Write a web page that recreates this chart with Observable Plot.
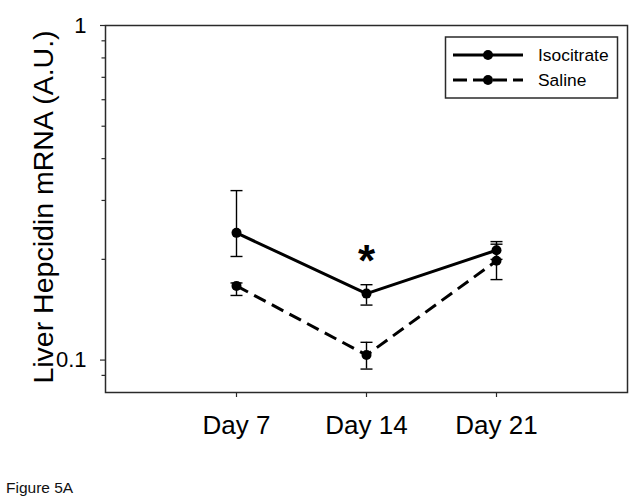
<!DOCTYPE html>
<html><head><meta charset="utf-8">
<script src="https://cdn.jsdelivr.net/npm/d3@7"></script>
<script src="https://cdn.jsdelivr.net/npm/@observablehq/plot@0.6"></script>
<style>
body{margin:0;background:#fff;}
#wrap{position:relative;width:641px;height:503px;font-family:"Liberation Sans",Arial,sans-serif;}
#caption{position:absolute;left:6px;top:480px;font-size:15.5px;line-height:15.5px;color:#111;white-space:nowrap;}
#legend{position:absolute;left:0;top:0;pointer-events:none;}
</style></head><body><div id="wrap"></div>
<script>
const days = ["Day 7", "Day 14", "Day 21"];
const seriesNames = ["Isocitrate", "Saline"];
const isocitrate = [0.240, 0.158, 0.213];
const isoLow = [0.204, 0.146, 0.200];
const isoHigh = [0.321, 0.168, 0.226];
const saline = [0.1666, 0.1035, 0.198];
const salLow = [0.156, 0.094, 0.174];
const salHigh = [0.170, 0.113, 0.222];
const majorTicks = [0.1, 1];
const majorLabels = ["0.1", "1"];
const minorTicks = [0.09, 0.2, 0.3, 0.4, 0.5, 0.6, 0.7, 0.8, 0.9];
const yDomain = [0.08, 1];
const starMarks = [{day: "Day 14", y: 0.205, label: "*"}];
const yLabel = "Liver Hepcidin mRNA (A.U.)";
const captionText = "Figure 5A";

const rows = [];
days.forEach((d, i) => {
  rows.push({day: d, series: seriesNames[0], value: isocitrate[i], lo: isoLow[i], hi: isoHigh[i]});
  rows.push({day: d, series: seriesNames[1], value: saline[i], lo: salLow[i], hi: salHigh[i]});
});
const isoRows = rows.filter(r => r.series === seriesNames[0]);
const salRows = rows.filter(r => r.series === seriesNames[1]);
const caps = rows.flatMap(r => [{day: r.day, v: r.lo}, {day: r.day, v: r.hi}]);
const font = '"Liberation Sans", Arial, sans-serif';

// horizontal-line symbol for error bar caps
const capSymbol = {
  draw(context, size) {
    const w = Math.sqrt(size / Math.PI);
    context.moveTo(-w, 0);
    context.lineTo(w, 0);
  }
};

const plot = Plot.plot({
  width: 641, height: 503,
  marginLeft: 105, marginRight: 14, marginTop: 25, marginBottom: 111,
  style: {fontFamily: font, color: "#000", background: "transparent", overflow: "visible"},
  x: {type: "point", domain: days, padding: 1},
  y: {type: "log", domain: yDomain},
  marks: [
    Plot.frame({stroke: "#2a2a2a", strokeWidth: 1.5}),
    Plot.axisY({ticks: minorTicks, tickSize: 3.5, tickFormat: () => "", label: null, stroke: "#2a2a2a", strokeWidth: 1.2}),
    Plot.axisY({ticks: majorTicks, tickSize: 5, tickPadding: 14, tickFormat: d => majorLabels[majorTicks.indexOf(d)], fontSize: 22, label: null, stroke: "#2a2a2a", strokeWidth: 1.2}),
    Plot.axisX({tickSize: 5, tickPadding: 18, fontSize: 26, label: null, stroke: "#2a2a2a", strokeWidth: 1.2}),
    Plot.text([yLabel], {frameAnchor: "left", text: d => d, rotate: -90, textAnchor: "middle", dx: -62, dy: -2, fontSize: 28.5, lineAnchor: "middle"}),
    Plot.ruleX(rows, {x: "day", y1: "lo", y2: "hi", stroke: "#000", strokeWidth: 1.4}),
    Plot.dot(caps, {x: "day", y: "v", symbol: capSymbol, r: 6, fill: "none", stroke: "#000", strokeWidth: 1.4}),
    Plot.line(isoRows, {x: "day", y: "value", stroke: "#000", strokeWidth: 3, strokeLinecap: "butt"}),
    Plot.line(salRows, {x: "day", y: "value", stroke: "#000", strokeWidth: 3, strokeLinecap: "butt", strokeDasharray: "13,7"}),
    Plot.dot(rows, {x: "day", y: "value", r: 5, fill: "#000"}),
    Plot.text(starMarks, {x: "day", y: "y", text: "label", fontSize: 44, fontWeight: "bold", lineAnchor: "middle", dy: 6})
  ]
});
const wrap = document.getElementById("wrap");
wrap.appendChild(plot);

// legend overlay
const ns = "http://www.w3.org/2000/svg";
const lg = document.createElementNS(ns, "svg");
lg.setAttribute("id", "legend");
lg.setAttribute("width", 641);
lg.setAttribute("height", 503);
const box = {x: 445.5, y: 37, w: 172, h: 61};
let html = `<rect x="${box.x}" y="${box.y}" width="${box.w}" height="${box.h}" fill="#fff" stroke="#2a2a2a" stroke-width="1.5"/>`;
const entries = [{name: seriesNames[0], dash: null, y: 55}, {name: seriesNames[1], dash: "14,6", y: 80}];
entries.forEach(e => {
  html += `<line x1="453" x2="523" y1="${e.y}" y2="${e.y}" stroke="#000" stroke-width="3" ${e.dash ? `stroke-dasharray="${e.dash}"` : ""}/>`;
  html += `<circle cx="488" cy="${e.y}" r="5" fill="#000"/>`;
  html += `<text x="538" y="${e.y}" dy="0.35em" font-size="17.4" font-family='${font}' fill="#000">${e.name}</text>`;
});
lg.innerHTML = html;
wrap.appendChild(lg);

const cap = document.createElement("div");
cap.id = "caption";
cap.textContent = captionText;
wrap.appendChild(cap);
</script>
</body></html>
